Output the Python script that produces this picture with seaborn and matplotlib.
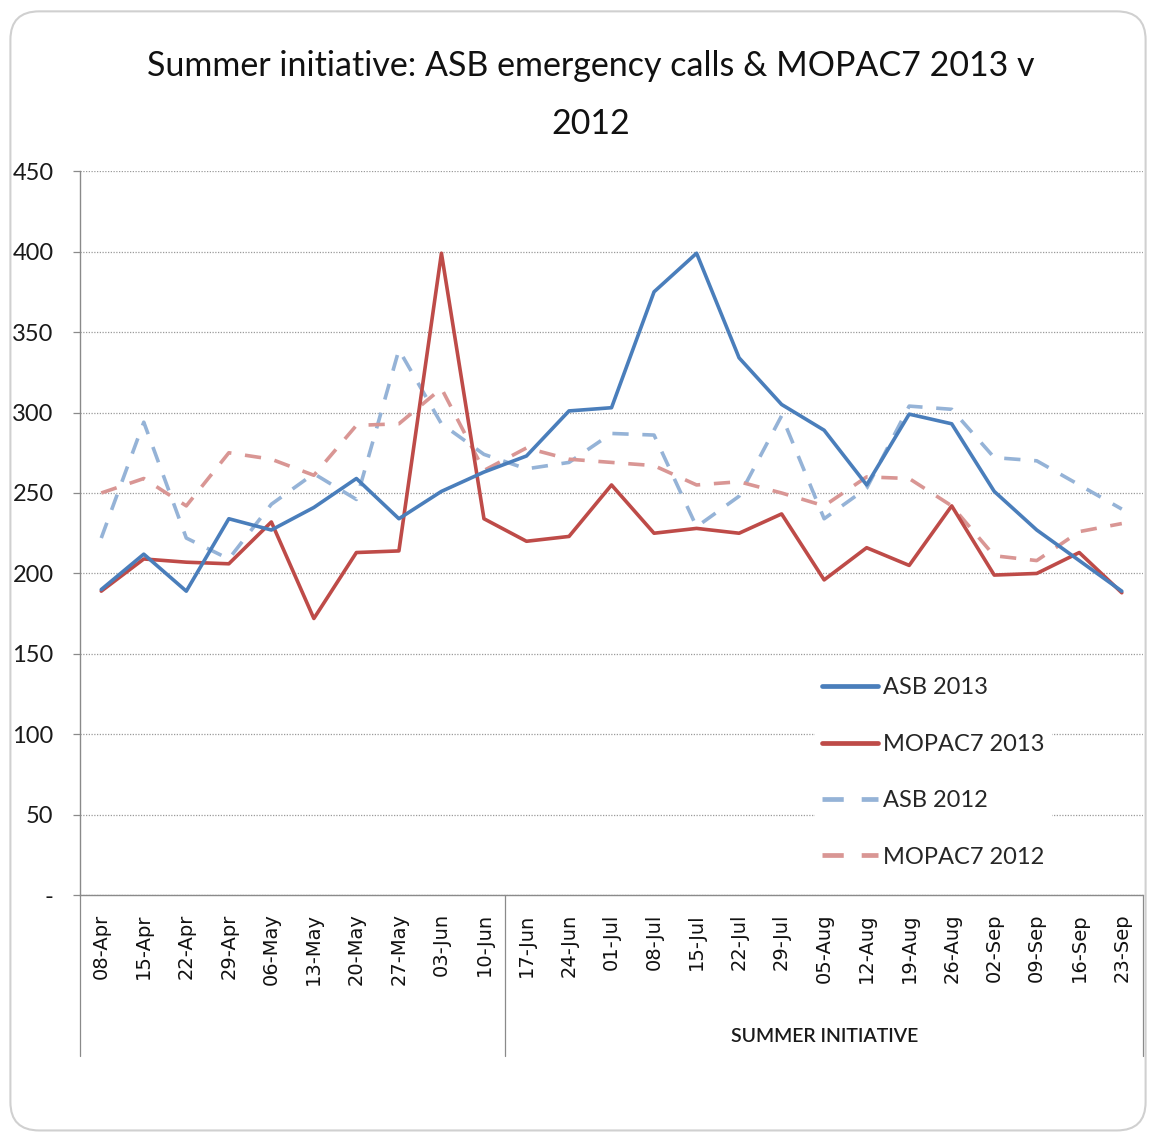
import matplotlib
matplotlib.use("Agg")
import matplotlib.pyplot as plt
import matplotlib.transforms as mtransforms
from matplotlib.patches import FancyBboxPatch
import pandas as pd
import seaborn as sns

WEEKS = [
    "08-Apr", "15-Apr", "22-Apr", "29-Apr", "06-May", "13-May", "20-May",
    "27-May", "03-Jun", "10-Jun", "17-Jun", "24-Jun", "01-Jul", "08-Jul",
    "15-Jul", "22-Jul", "29-Jul", "05-Aug", "12-Aug", "19-Aug", "26-Aug",
    "02-Sep", "09-Sep", "16-Sep", "23-Sep",
]
ASB_2013 = [190, 212, 189, 234, 227, 241, 259, 234, 251, 263, 273, 301, 303,
            375, 399, 334, 305, 289, 255, 299, 293, 251, 227, 208, 189]
MOPAC7_2013 = [189, 209, 207, 206, 232, 172, 213, 214, 399, 234, 220, 223, 255,
               225, 228, 225, 237, 196, 216, 205, 242, 199, 200, 213, 188]
ASB_2012 = [222, 294, 222, 209, 243, 262, 246, 339, 293, 274, 265, 269, 287,
            286, 229, 248, 298, 234, 253, 304, 302, 272, 270, 255, 240]
MOPAC7_2012 = [250, 259, 242, 275, 271, 261, 292, 293, 315, 264, 278, 271, 269,
               267, 255, 257, 250, 242, 260, 259, 242, 211, 208, 226, 231]
SERIES = ["ASB 2013", "MOPAC7 2013", "ASB 2012", "MOPAC7 2012"]
GROUPS = [("", 0, 9), ("SUMMER INITIATIVE", 10, 24)]
Y_TICKS = [0, 50, 100, 150, 200, 250, 300, 350, 400, 450]

COLORS = {
    "ASB 2013": "#4a7ebb",
    "MOPAC7 2013": "#be4b48",
    "ASB 2012": "#95b3d7",
    "MOPAC7 2012": "#d99694",
}
DASHES = {
    "ASB 2013": "",
    "MOPAC7 2013": "",
    "ASB 2012": (4.5, 3.8),
    "MOPAC7 2012": (4.5, 3.8),
}


def main() -> None:
    df = pd.concat(
        [
            pd.DataFrame({"week": WEEKS, "calls": vals, "series": name})
            for name, vals in zip(SERIES, [ASB_2013, MOPAC7_2013, ASB_2012, MOPAC7_2012])
        ],
        ignore_index=True,
    )

    sns.set_theme(style="white")
    plt.rcParams["font.family"] = ["Lato", "DejaVu Sans"]

    fig = plt.figure(figsize=(11.56, 11.35), dpi=100)
    ax = fig.add_axes([0.0692, 0.2112, 0.9196, 0.638])

    # draw 2012 first so 2013 sits on top
    order = ["ASB 2012", "MOPAC7 2012", "MOPAC7 2013", "ASB 2013"]
    for name in order:
        sub = df[df["series"] == name]
        sns.lineplot(
            data=sub, x="week", y="calls", ax=ax, sort=False,
            color=COLORS[name], linewidth=2.6, dashes=False, label=name,
        )
        if DASHES[name]:
            ax.lines[-1].set_dashes(DASHES[name])

    ax.set_xlim(-0.5, len(WEEKS) - 0.5)
    ax.set_ylim(0, 450)
    ax.set_xlabel("")
    ax.set_ylabel("")

    ax.set_yticks(Y_TICKS)
    ax.set_yticklabels(["-"] + [str(v) for v in Y_TICKS[1:]], fontsize=17)
    ax.yaxis.grid(True, linestyle=(0, (1, 1.2)), color="#9a9a9a", linewidth=0.9)
    ax.set_axisbelow(True)

    ax.set_xticks(range(len(WEEKS)))
    ax.set_xticklabels(WEEKS, rotation=90, fontsize=14, fontweight="normal",
                       va="top", ha="center", family=["DejaVu Sans"])
    ax.set_xticks([i - 0.5 for i in range(len(WEEKS) + 1)], minor=True)
    ax.tick_params(axis="x", which="major", length=0, pad=13, colors="#111111")
    ax.tick_params(axis="x", which="minor", length=77, width=0.9, color="#8a8a8a",
                   direction="out")
    ax.tick_params(axis="y", which="major", length=5, width=0.9,
                   left=True, pad=14, colors="#1a1a1a")
    ax.yaxis.set_tick_params(color="#8a8a8a")

    for side in ["top", "right"]:
        ax.spines[side].set_visible(False)
    for side in ["left", "bottom"]:
        ax.spines[side].set_color("#8a8a8a")
        ax.spines[side].set_linewidth(1.0)

    # two-level category axis: group separators and labels
    trans = mtransforms.blended_transform_factory(ax.transData, ax.transAxes)
    edges = sorted({g[1] - 0.5 for g in GROUPS} | {g[2] + 0.5 for g in GROUPS})
    for e in edges:
        ax.plot([e, e], [0, -0.222], transform=trans, color="#8a8a8a",
                linewidth=0.9, clip_on=False)
    for label, start, end in GROUPS:
        if label:
            ax.text((start + end) / 2, -0.195, label, transform=trans,
                    ha="center", va="center", fontsize=14, fontweight="semibold",
                    color="#1a1a1a")

    handles, labels = ax.get_legend_handles_labels()
    lookup = dict(zip(labels, handles))
    leg = ax.legend(
        [lookup[s] for s in SERIES], SERIES,
        loc="upper left", bbox_to_anchor=(0.68, 0.327),
        frameon=True, facecolor="white", edgecolor="none", framealpha=1,
        fontsize=17, handlelength=2.4, handletextpad=0.2, labelspacing=1.5,
        borderpad=0.3,
    )
    for line in leg.get_lines():
        line.set_linewidth(3.4)

    fig.text(0.511, 0.956,
             "Summer initiative: ASB emergency calls & MOPAC7 2013 v\n2012",
             ha="center", va="top", fontsize=24.5, linespacing=2.0,
             color="#111111")

    border = FancyBboxPatch(
        (0.009, 0.004), 0.982, 0.986,
        boxstyle="round,pad=0,rounding_size=0.025",
        transform=fig.transFigure, facecolor="none", edgecolor="#d0d0d0",
        linewidth=1.5,
    )
    fig.patches.append(border)

    fig.savefig("out.png", dpi=100)
    plt.close(fig)


if __name__ == "__main__":
    main()
